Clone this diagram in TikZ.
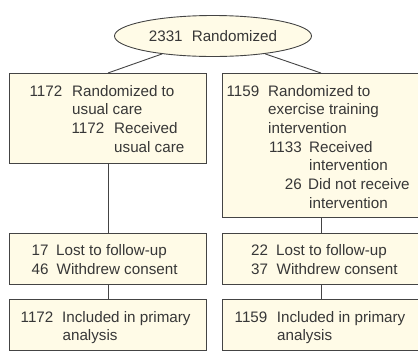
\documentclass[tikz,border=0pt]{standalone}
\usepackage{fontspec}
\setmainfont{Liberation Sans}
\usetikzlibrary{shapes.geometric}
\definecolor{boxfill}{RGB}{255,251,231}
\definecolor{boxline}{RGB}{68,68,68}
\definecolor{ink}{RGB}{55,55,55}
\begin{document}
\begin{tikzpicture}[x=1pt,y=-1pt,
  box/.style={draw=boxline, fill=boxfill, line width=0.9pt, rectangle, inner sep=0pt, anchor=north west, minimum width=197pt},
  txt/.style={inner sep=0pt, anchor=base west, text=ink, font=\fontsize{15.2}{18.7}\selectfont},
  numr/.style={txt, anchor=base east},
  link/.style={draw=boxline, line width=0.9pt}]
\useasboundingbox (0,0) rectangle (418,354);

% boxes
\node[ellipse, draw=boxline, fill=boxfill, line width=0.9pt, minimum width=197pt, minimum height=41pt, inner sep=0pt, text=ink, font=\fontsize{15.2}{18.7}\selectfont] (rand) at (213,36) {2331\hspace{0.6em}Randomized};
\node[box, minimum height=90pt] (care) at (9,73) {};
\node[box, minimum height=144pt] (exer) at (222,73) {};
\node[box, minimum height=51pt] (lostL) at (9,233) {};
\node[box, minimum height=51pt] (lostR) at (222,233) {};
\node[box, minimum height=51pt] (inclL) at (9,299) {};
\node[box, minimum height=51pt] (inclR) at (222,299) {};

% connectors
\draw[link] (rand) -- (care.north);
\draw[link] (rand) -- (exer.north);
\draw[link] (care.south) -- (lostL.north);
\draw[link] (exer.south) -- (lostR.north);
\draw[link] (lostL.south) -- (inclL.north);
\draw[link] (lostR.south) -- (inclR.north);

% left top box text
\node[txt] (a1) at (29.4,96) {1172};
\node[txt] (a2) at (72,96) {Randomized to};
\node[txt] (a3) at (72,114.7) {usual care};
\node[txt] (a4) at (71.4,133.3) {1172};
\node[txt] (a5) at (114,133.3) {Received};
\node[txt] (a6) at (114,152) {usual care};

% right top box text
\node[txt] (b1) at (226.4,96) {1159};
\node[txt] (b2) at (268,96) {Randomized to};
\node[txt] (b3) at (268,114.7) {exercise training};
\node[txt] (b4) at (268,133.3) {intervention};
\node[numr] (b5) at (302,152) {1133};
\node[txt] (b6) at (309,152) {Received};
\node[txt] (b7) at (309,170.7) {intervention};
\node[numr] (b8) at (302,189.3) {26};
\node[txt] (b9) at (308,189.3) {Did not receive};
\node[txt] (b10) at (309,208) {intervention};

% middle boxes text
\node[txt] (c1) at (31.5,255) {17};
\node[txt] (c2) at (56,255) {Lost to follow-up};
\node[txt] (c3) at (31.5,274) {46};
\node[txt] (c4) at (56.5,274) {Withdrew consent};
\node[txt] (d1) at (251,255) {22};
\node[txt] (d2) at (276,255) {Lost to follow-up};
\node[txt] (d3) at (251,274) {37};
\node[txt] (d4) at (276.5,274) {Withdrew consent};

% bottom boxes text
\node[txt] (e1) at (20.5,322) {1172};
\node[txt] (e2) at (62,322) {Included in primary};
\node[txt] (e3) at (62.4,340.5) {analysis};
\node[txt] (f1) at (234.5,322) {1159};
\node[txt] (f2) at (276.7,322) {Included in primary};
\node[txt] (f3) at (277,340.5) {analysis};
\end{tikzpicture}
\end{document}
